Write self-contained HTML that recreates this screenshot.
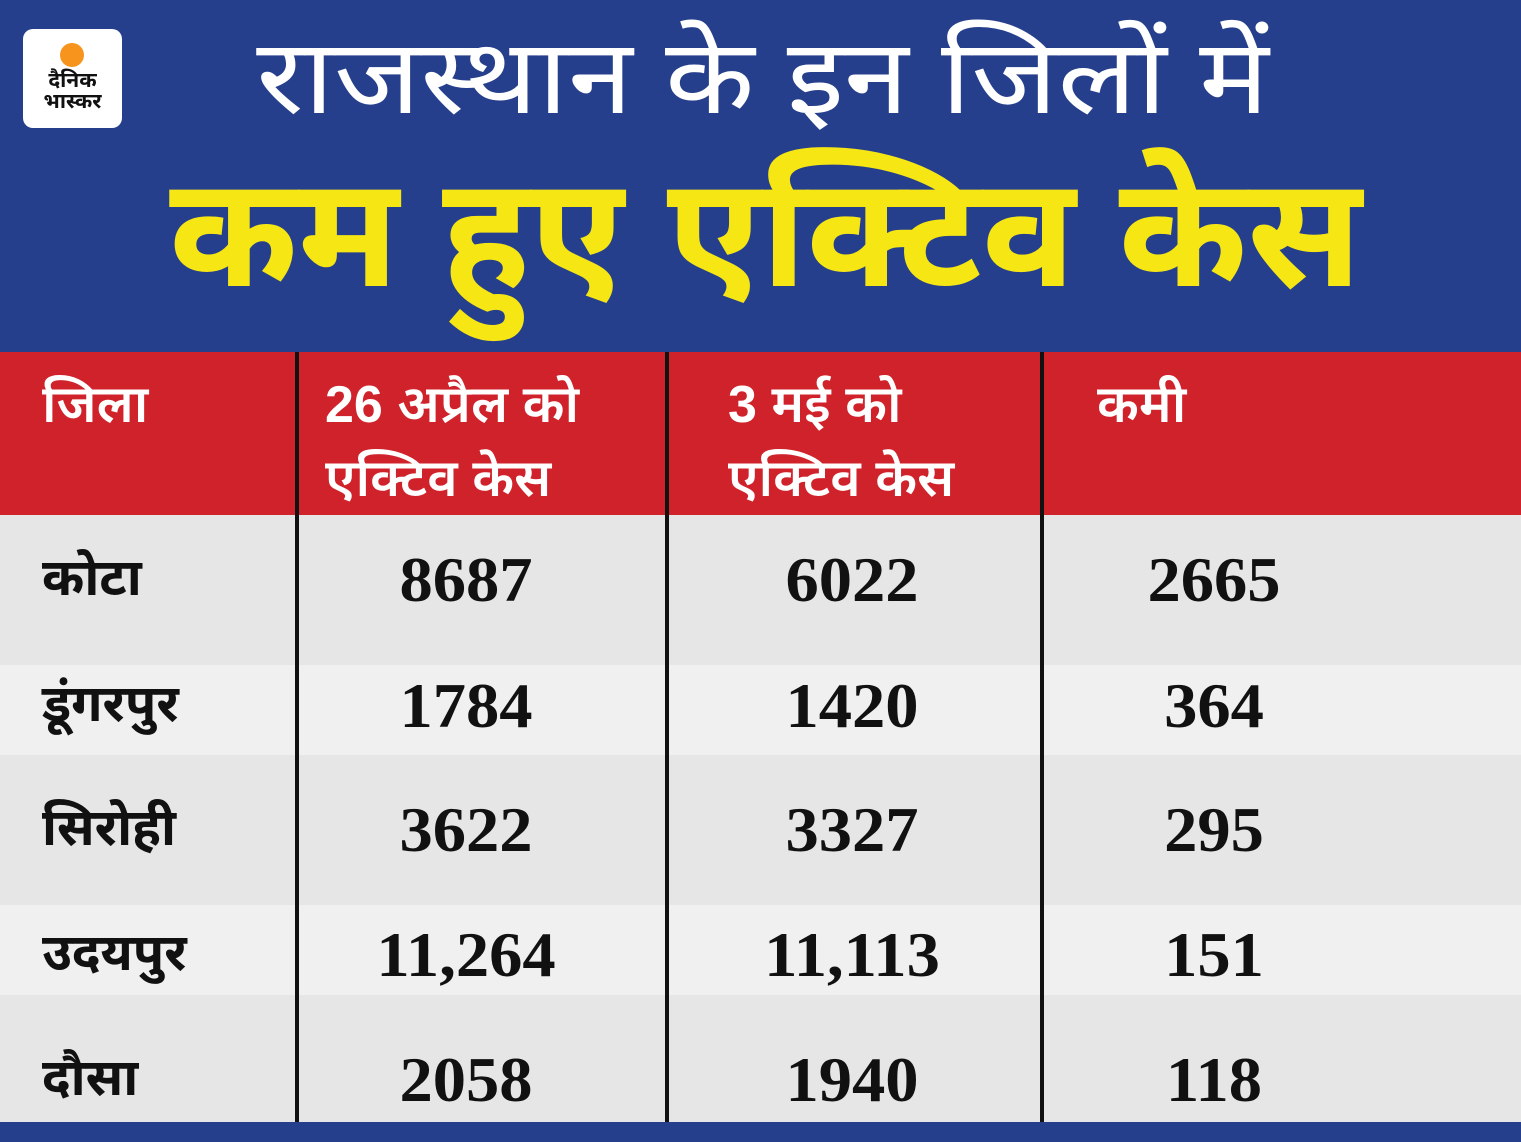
<!DOCTYPE html>
<html><head><meta charset="utf-8"><style>
body{margin:0;width:1521px;height:1142px;position:relative;overflow:hidden;background:#e6e6e6;font-family:"Liberation Sans","Noto Sans Devanagari","Lohit Devanagari",sans-serif}
.a{position:absolute}
.n{position:absolute;font-family:"Liberation Serif",serif;font-weight:bold;font-size:64px;color:#111;transform:translate(-50%,-50%) scaleX(1.04);white-space:nowrap}
.d{position:absolute;font-weight:bold;font-size:51px;color:#111;transform:translateY(-50%);left:42px}
.h{position:absolute;color:#fff;font-size:52px;line-height:74px;font-weight:600}
.vl{position:absolute;top:352px;width:4px;height:770px;background:#111}
</style></head><body>
<div class="a" style="left:0;top:0;width:1521px;height:352px;background:#263f8c"></div>
<div class="a" style="left:23px;top:29px;width:99px;height:99px;background:#fff;border-radius:10px"></div>
<div class="a" style="left:60px;top:43px;width:24px;height:24px;background:#f7941d;border-radius:50%"></div>
<div class="a" style="left:23px;top:70px;width:99px;text-align:center;font-size:21px;font-weight:bold;line-height:21px;color:#111">दैनिक<br>भास्कर</div>
<div class="a" style="left:0;top:18px;width:1521px;text-align:center;color:#fff;font-size:104px;line-height:120px;transform:translateX(2px) scaleX(1.12)">राजस्थान के इन जिलों में</div>
<div class="a" style="left:0;top:148px;width:1521px;text-align:center;color:#f5e614;font-size:155px;font-weight:bold;line-height:170px;transform:translateX(5px) scaleX(1.0)">कम हुए एक्टिव केस</div>
<div class="a" style="left:0;top:352px;width:1521px;height:163px;background:#d0222a"></div>
<div class="a" style="left:0;top:665px;width:1521px;height:90px;background:#f0f0f0"></div>
<div class="a" style="left:0;top:905px;width:1521px;height:90px;background:#f0f0f0"></div>
<div class="a" style="left:0;top:1122px;width:1521px;height:20px;background:#263f8c"></div>
<div class="vl" style="left:295px"></div><div class="vl" style="left:665px"></div><div class="vl" style="left:1040px"></div>
<div class="h" style="left:42px;top:368px">जिला</div>
<div class="h" style="left:325px;top:368px">26 अप्रैल को<br>एक्टिव केस</div>
<div class="h" style="left:728px;top:368px">3 मई को<br>एक्टिव केस</div>
<div class="h" style="left:1097px;top:368px">कमी</div>
<div class="d" style="top:582px">कोटा</div>
<div class="d" style="top:708px">डूंगरपुर</div>
<div class="d" style="top:832px">सिरोही</div>
<div class="d" style="top:957px">उदयपुर</div>
<div class="d" style="top:1082px">दौसा</div>
<div class="n" style="left:466px;top:580px">8687</div><div class="n" style="left:852px;top:580px">6022</div><div class="n" style="left:1214px;top:580px">2665</div>
<div class="n" style="left:466px;top:706px">1784</div><div class="n" style="left:852px;top:706px">1420</div><div class="n" style="left:1214px;top:706px">364</div>
<div class="n" style="left:466px;top:830px">3622</div><div class="n" style="left:852px;top:830px">3327</div><div class="n" style="left:1214px;top:830px">295</div>
<div class="n" style="left:466px;top:955px">11,264</div><div class="n" style="left:852px;top:955px">11,113</div><div class="n" style="left:1214px;top:955px">151</div>
<div class="n" style="left:466px;top:1080px">2058</div><div class="n" style="left:852px;top:1080px">1940</div><div class="n" style="left:1214px;top:1080px">118</div>
</body></html>
